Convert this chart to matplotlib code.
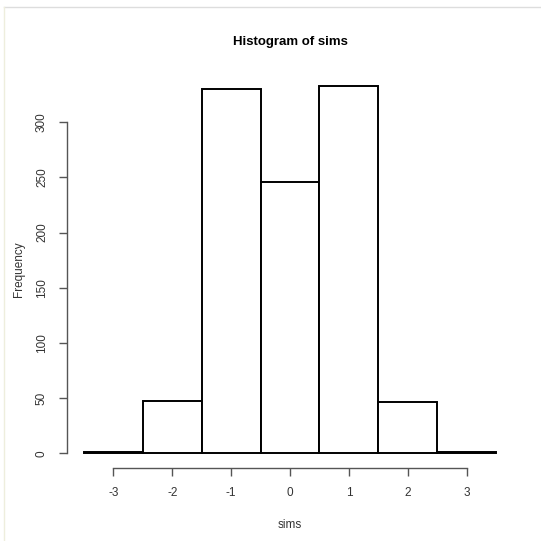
import matplotlib.pyplot as plt
from matplotlib.lines import Line2D

# histogram of sims
bin_edges = [-3.5, -2.5, -1.5, -0.5, 0.5, 1.5, 2.5, 3.5]
counts = [1, 47, 330, 246, 333, 46, 1]
x_ticks = [-3, -2, -1, 0, 1, 2, 3]
y_ticks = [0, 50, 100, 150, 200, 250, 300]

plt.rcParams['font.family'] = ['Liberation Sans', 'DejaVu Sans']
plt.rcParams['axes.unicode_minus'] = False

fig = plt.figure(figsize=(5.41, 5.41), dpi=100)
ax = fig.add_axes([0.1246, 0.1349, 0.8229, 0.7357])

ax.hist(bin_edges[:-1], bins=bin_edges, weights=counts,
        facecolor='white', edgecolor='black', linewidth=1.4)

ax.set_xlim(-3.78, 3.78)
ax.set_ylim(-13.4, 347.4)

for s in ['top', 'right']:
    ax.spines[s].set_visible(False)
ax.spines['left'].set_bounds(0, 300)
ax.spines['bottom'].set_bounds(-3, 3)
for s in ['left', 'bottom']:
    ax.spines[s].set_color('#555555')
    ax.spines[s].set_linewidth(1.0)

ax.set_xticks(x_ticks)
ax.set_yticks(y_ticks)
ax.tick_params(length=6, width=1.0, color='#555555', labelcolor='#333333',
               labelsize=8.5, pad=8)
plt.setp(ax.get_yticklabels(), rotation=90, va='center')

ax.set_title('Histogram of sims', fontsize=9.5, fontweight='bold', pad=18)
ax.set_xlabel('sims', fontsize=8.5, color='#333333', labelpad=14)
ax.set_ylabel('Frequency', fontsize=8.5, color='#333333', labelpad=8)

# light frame of the screenshot
fig.add_artist(Line2D([4/541, 1], [1-7/541, 1-7/541], color='#dddddd', lw=1))
fig.add_artist(Line2D([4/541, 4/541], [0, 1-7/541], color='#eeeedd', lw=1))

fig.savefig('out.png', dpi=100)
